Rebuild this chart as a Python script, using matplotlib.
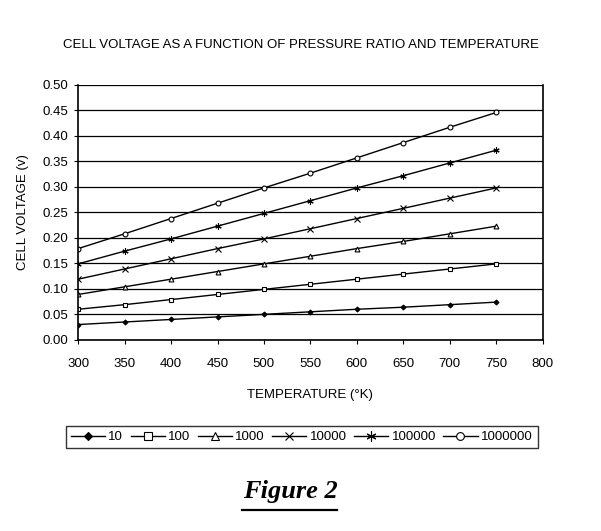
import matplotlib
matplotlib.use('Agg')
import matplotlib.pyplot as plt

plt.rcParams['font.family'] = ['Liberation Sans', 'DejaVu Sans']

temps = [300, 350, 400, 450, 500, 550, 600, 650, 700, 750]
v10 = [0.030, 0.035, 0.040, 0.045, 0.050, 0.055, 0.060, 0.064, 0.069, 0.074]
v100 = [0.060, 0.069, 0.079, 0.089, 0.099, 0.109, 0.119, 0.129, 0.139, 0.149]
v1000 = [0.089, 0.104, 0.119, 0.134, 0.149, 0.164, 0.179, 0.193, 0.208, 0.223]
v10000 = [0.119, 0.139, 0.159, 0.179, 0.198, 0.218, 0.238, 0.258, 0.278, 0.298]
v100000 = [0.149, 0.174, 0.198, 0.223, 0.248, 0.273, 0.298, 0.322, 0.347, 0.372]
v1000000 = [0.179, 0.208, 0.238, 0.268, 0.298, 0.327, 0.357, 0.387, 0.417, 0.446]
labels = ['10', '100', '1000', '10000', '100000', '1000000']

fig = plt.figure(figsize=(6.01, 5.31), dpi=100)
ax = fig.add_axes([0.130, 0.360, 0.773, 0.480])

styles = [
    dict(marker='D', markersize=2.5, markerfacecolor='black'),
    dict(marker='s', markersize=3.5, markerfacecolor='white'),
    dict(marker='^', markersize=3.5, markerfacecolor='white'),
    dict(marker='x', markersize=4),
    dict(marker=(6, 2, 0), markersize=4.5),
    dict(marker='o', markersize=3.5, markerfacecolor='white'),
]
series = [v10, v100, v1000, v10000, v100000, v1000000]
for ys, lab, st in zip(series, labels, styles):
    ax.plot(temps, ys, color='black', linewidth=1, markeredgecolor='black',
            markeredgewidth=0.8, label=lab, **st)

ax.set_xlim(300, 800)
ax.set_ylim(0, 0.5)
ax.set_xticks(range(300, 801, 50))
ax.set_yticks([i * 0.05 for i in range(11)])
ax.set_yticklabels(['%.2f' % (i * 0.05) for i in range(11)])
ax.yaxis.grid(True, color='black', linewidth=0.9)
ax.set_axisbelow(True)
ax.spines['top'].set_visible(False)
for s in ['left', 'right', 'bottom']:
    ax.spines[s].set_linewidth(1.2)
ax.tick_params(axis='both', direction='out', length=3, labelsize=9.5, pad=4)
ax.tick_params(axis='x', pad=10)

fig.text(0.5, 0.915, 'CELL VOLTAGE AS A FUNCTION OF PRESSURE RATIO AND TEMPERATURE',
         ha='center', va='center', fontsize=9.5)
ax.set_xlabel('TEMPERATURE (°K)', fontsize=9.5, labelpad=14)
ax.set_ylabel('CELL VOLTAGE (v)', fontsize=9.5, labelpad=10)

leg = fig.legend(loc='center', bbox_to_anchor=(0.502, 0.177), ncol=6, fontsize=9.5,
                 frameon=True, fancybox=False, edgecolor='black', handlelength=2.6,
                 handletextpad=0.25, columnspacing=0.55, borderpad=0.4,
                 markerscale=1.6)
leg.get_frame().set_linewidth(1.0)

fig.text(0.483, 0.075, 'Figure 2', ha='center', va='center', fontsize=19,
         fontweight='bold', fontstyle='italic', family=['Liberation Serif', 'DejaVu Serif'])
fig.add_artist(plt.Line2D([0.402, 0.561], [0.040, 0.040], color='black', linewidth=1.6))

fig.savefig('out.png', dpi=100, facecolor='white')
